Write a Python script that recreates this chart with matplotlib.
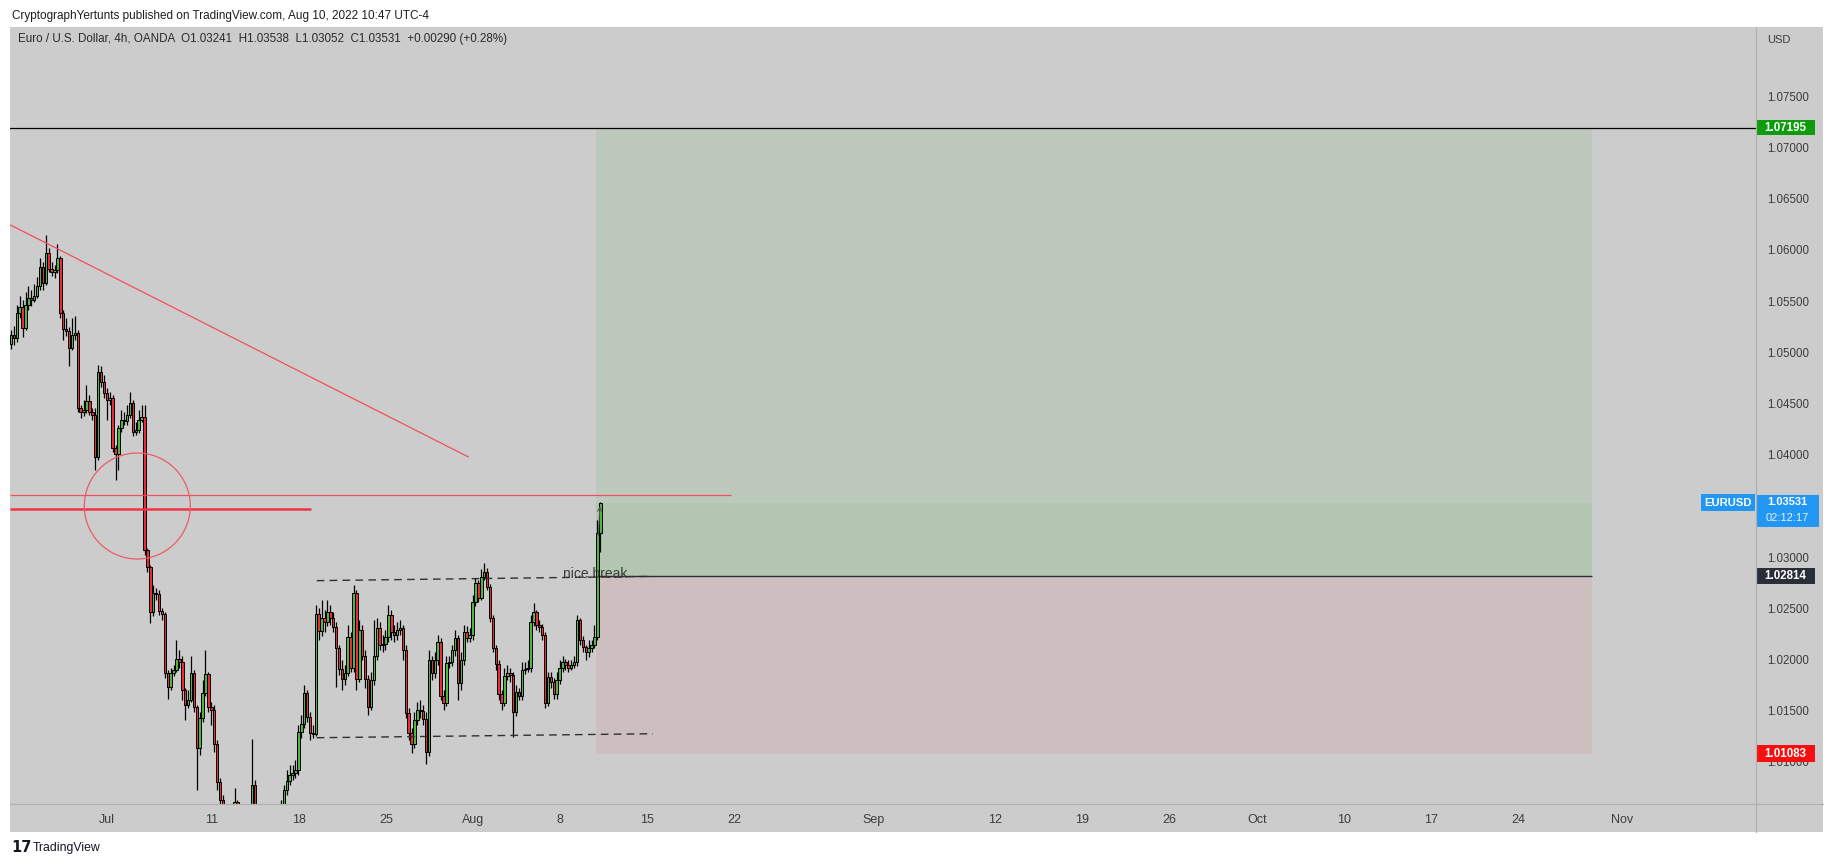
import numpy as np
import matplotlib
matplotlib.use("Agg")
import matplotlib.pyplot as plt
from matplotlib.patches import Rectangle, Ellipse
from matplotlib.transforms import blended_transform_factory, IdentityTransform

# ---------------- data (EURUSD 4h, OANDA) ----------------
first_open = 1.0508
closes = [
    1.0517, 1.0514, 1.0538, 1.0544, 1.0524, 1.0546, 1.0553, 1.0551, 1.0555, 1.0565,
    1.0583, 1.0568, 1.0597, 1.0581, 1.0579, 1.0580, 1.0592, 1.0538, 1.0523, 1.0521,
    1.0504, 1.0517, 1.0519, 1.0446, 1.0442, 1.0444, 1.0453, 1.0442, 1.0439, 1.0398,
    1.0481, 1.0471, 1.0460, 1.0454, 1.0455, 1.0407, 1.0401, 1.0426, 1.0434, 1.0433,
    1.0439, 1.0451, 1.0422, 1.0424, 1.0434, 1.0437, 1.0307, 1.0290, 1.0246, 1.0265,
    1.0264, 1.0247, 1.0245, 1.0187, 1.0173, 1.0187, 1.0190, 1.0201, 1.0198, 1.0170,
    1.0156, 1.0161, 1.0187, 1.0154, 1.0114, 1.0143, 1.0167, 1.0186, 1.0154, 1.0151,
    1.0118, 1.0080, 1.0063, 1.0048, 1.0034, 1.0014, 1.0044, 1.0061, 1.0034, 1.0004,
    0.9985, 0.9965, 0.9994, 1.0078, 1.0034, 1.0014, 0.9994, 1.0004, 0.9985, 0.9994,
    1.0014, 1.0024, 1.0044, 1.0058, 1.0073, 1.0081, 1.0087, 1.0089, 1.0092, 1.0129,
    1.0137, 1.0167, 1.0144, 1.0128, 1.0127, 1.0245, 1.0228, 1.0241, 1.0237, 1.0246,
    1.0241, 1.0232, 1.0211, 1.0191, 1.0181, 1.0187, 1.0222, 1.0192, 1.0265, 1.0181,
    1.0229, 1.0204, 1.0181, 1.0154, 1.0180, 1.0204, 1.0231, 1.0214, 1.0215, 1.0222,
    1.0244, 1.0227, 1.0224, 1.0229, 1.0231, 1.0209, 1.0148, 1.0128, 1.0118, 1.0141,
    1.0151, 1.0150, 1.0142, 1.0110, 1.0200, 1.0187, 1.0200, 1.0217, 1.0164, 1.0158,
    1.0197, 1.0198, 1.0209, 1.0221, 1.0177, 1.0200, 1.0227, 1.0221, 1.0224, 1.0256,
    1.0275, 1.0260, 1.0281, 1.0286, 1.0271, 1.0241, 1.0211, 1.0196, 1.0166, 1.0158,
    1.0184, 1.0187, 1.0185, 1.0149, 1.0168, 1.0164, 1.0190, 1.0191, 1.0192, 1.0237,
    1.0246, 1.0234, 1.0232, 1.0224, 1.0158, 1.0183, 1.0178, 1.0166, 1.0180, 1.0192,
    1.0198, 1.0195, 1.0192, 1.0195, 1.0198, 1.0239, 1.0219, 1.0212, 1.0207, 1.0211,
    1.0214, 1.0222, 1.03241, 1.03531]
highs = [
    1.0522, 1.0526, 1.0546, 1.0555, 1.0551, 1.0559, 1.0565, 1.0561, 1.0567, 1.0574,
    1.0592, 1.0588, 1.0615, 1.0602, 1.0588, 1.0585, 1.0606, 1.0594, 1.0541, 1.0534,
    1.0525, 1.0534, 1.0536, 1.0522, 1.0449, 1.0454, 1.0468, 1.0458, 1.0446, 1.0446,
    1.0488, 1.0487, 1.0478, 1.0465, 1.0461, 1.0458, 1.0410, 1.0429, 1.0444, 1.0442,
    1.0449, 1.0461, 1.0454, 1.0432, 1.0444, 1.0449, 1.0449, 1.0309, 1.0292, 1.0273,
    1.0270, 1.0268, 1.0250, 1.0246, 1.0190, 1.0192, 1.0195, 1.0219, 1.0209, 1.0204,
    1.0172, 1.0170, 1.0204, 1.0190, 1.0156, 1.0149, 1.0180, 1.0209, 1.0188, 1.0159,
    1.0156, 1.0121, 1.0084, 1.0068, 1.0053, 1.0039, 1.0058, 1.0075, 1.0063, 1.0039,
    1.0009, 0.9990, 1.0004, 1.0122, 1.0082, 1.0039, 1.0019, 1.0014, 1.0009, 1.0004,
    1.0019, 1.0034, 1.0048, 1.0063, 1.0078, 1.0092, 1.0097, 1.0097, 1.0102, 1.0136,
    1.0146, 1.0175, 1.0170, 1.0149, 1.0136, 1.0253, 1.0250, 1.0258, 1.0248, 1.0258,
    1.0253, 1.0246, 1.0237, 1.0214, 1.0200, 1.0195, 1.0234, 1.0227, 1.0273, 1.0268,
    1.0239, 1.0234, 1.0209, 1.0185, 1.0188, 1.0239, 1.0241, 1.0237, 1.0224, 1.0229,
    1.0253, 1.0248, 1.0234, 1.0237, 1.0239, 1.0234, 1.0214, 1.0153, 1.0133, 1.0149,
    1.0159, 1.0161, 1.0156, 1.0149, 1.0209, 1.0204, 1.0207, 1.0224, 1.0221, 1.0170,
    1.0204, 1.0204, 1.0214, 1.0229, 1.0224, 1.0207, 1.0234, 1.0233, 1.0231, 1.0263,
    1.0280, 1.0278, 1.0288, 1.0294, 1.0289, 1.0274, 1.0244, 1.0214, 1.0200, 1.0170,
    1.0192, 1.0195, 1.0192, 1.0188, 1.0175, 1.0172, 1.0198, 1.0198, 1.0200, 1.0244,
    1.0255, 1.0248, 1.0239, 1.0235, 1.0227, 1.0188, 1.0188, 1.0182, 1.0188, 1.0200,
    1.0204, 1.0201, 1.0200, 1.0200, 1.0204, 1.0244, 1.0241, 1.0223, 1.0214, 1.0219,
    1.0219, 1.0234, 1.0336, 1.03538]
lows = [
    1.0503, 1.0507, 1.0510, 1.0534, 1.0515, 1.0522, 1.0541, 1.0545, 1.0549, 1.0553,
    1.0561, 1.0561, 1.0566, 1.0579, 1.0575, 1.0573, 1.0578, 1.0534, 1.0512, 1.0516,
    1.0487, 1.0502, 1.0512, 1.0442, 1.0436, 1.0438, 1.0441, 1.0439, 1.0434, 1.0385,
    1.0395, 1.0466, 1.0455, 1.0434, 1.0449, 1.0403, 1.0375, 1.0385, 1.0422, 1.0429,
    1.0429, 1.0436, 1.0418, 1.0419, 1.0421, 1.0432, 1.0302, 1.0286, 1.0236, 1.0243,
    1.0258, 1.0244, 1.0239, 1.0182, 1.0162, 1.0170, 1.0184, 1.0188, 1.0192, 1.0161,
    1.0141, 1.0153, 1.0159, 1.0149, 1.0073, 1.0107, 1.0139, 1.0164, 1.0149, 1.0136,
    1.0110, 1.0073, 1.0058, 1.0034, 1.0024, 1.0004, 1.0009, 1.0039, 1.0024, 0.9994,
    0.9975, 0.9955, 0.9960, 0.9990, 1.0024, 1.0004, 0.9985, 0.9990, 0.9975, 0.9980,
    0.9990, 1.0009, 1.0019, 1.0039, 1.0055, 1.0068, 1.0078, 1.0082, 1.0084, 1.0087,
    1.0123, 1.0133, 1.0139, 1.0121, 1.0123, 1.0125, 1.0219, 1.0223, 1.0227, 1.0233,
    1.0234, 1.0227, 1.0173, 1.0185, 1.0170, 1.0175, 1.0184, 1.0188, 1.0188, 1.0170,
    1.0178, 1.0200, 1.0172, 1.0146, 1.0151, 1.0175, 1.0200, 1.0209, 1.0207, 1.0209,
    1.0217, 1.0219, 1.0217, 1.0219, 1.0224, 1.0200, 1.0143, 1.0121, 1.0109, 1.0114,
    1.0136, 1.0143, 1.0136, 1.0098, 1.0106, 1.0180, 1.0182, 1.0195, 1.0161, 1.0151,
    1.0155, 1.0192, 1.0194, 1.0204, 1.0161, 1.0170, 1.0195, 1.0217, 1.0217, 1.0219,
    1.0252, 1.0256, 1.0258, 1.0278, 1.0268, 1.0237, 1.0207, 1.0190, 1.0161, 1.0151,
    1.0155, 1.0180, 1.0178, 1.0124, 1.0145, 1.0161, 1.0161, 1.0186, 1.0188, 1.0188,
    1.0233, 1.0229, 1.0227, 1.0219, 1.0153, 1.0155, 1.0172, 1.0162, 1.0162, 1.0176,
    1.0188, 1.0190, 1.0188, 1.0190, 1.0192, 1.0194, 1.0214, 1.0207, 1.0200, 1.0203,
    1.0207, 1.0211, 1.0219, 1.03052]

tick_dates = ['2022-07-01', '2022-07-11', '2022-07-18', '2022-07-25', '2022-08-01',
              '2022-08-08', '2022-08-15', '2022-08-22', '2022-09-01', '2022-09-12',
              '2022-09-19', '2022-09-26', '2022-10-03', '2022-10-10', '2022-10-17',
              '2022-10-24', '2022-11-01']
tick_labels = ['Jul', '11', '18', '25', 'Aug', '8', '15', '22', 'Sep', '12',
               '19', '26', 'Oct', '10', '17', '24', 'Nov']
# 1.035 is hidden behind the live-price label, as on the reference
price_ticks = [1.010, 1.015, 1.020, 1.025, 1.030, 1.040, 1.045,
               1.050, 1.055, 1.060, 1.065, 1.070, 1.075]

# long position tool levels
target_price = 1.07195
entry_price = 1.02814
stop_price = 1.01083
last_price = 1.03531

# drawings (price levels)
res_thin = 1.03603
res_thick = 1.03468
trend_p0, trend_p1 = 1.06244, 1.03981
box_top = (1.02771, 1.02813)
box_bot = (1.01237, 1.01276)

# ---------------- layout ----------------
W, H, DPI = 1834, 867, 100
BG = '#cccccc'
GREEN, RED = '#4cb83c', '#ee2a35'
FONT = ['Liberation Sans', 'DejaVu Sans']
NARROW = ['Liberation Sans Narrow', 'Liberation Sans', 'DejaVu Sans']
plt.rcParams['font.family'] = FONT

fig = plt.figure(figsize=(W / DPI, H / DPI), dpi=DPI, facecolor='white')


def fig_rect(x0, y0, x1, y1, **kw):
    fig.add_artist(Rectangle((x0 / W, 1 - y1 / H), (x1 - x0) / W, (y1 - y0) / H,
                             transform=fig.transFigure, **kw))


def fig_line(xs, ys, **kw):
    fig.add_artist(plt.Line2D([x / W for x in xs], [1 - y / H for y in ys],
                              transform=fig.transFigure, **kw))


fig_rect(10, 27, 1823, 832, facecolor=BG, edgecolor='none', zorder=-5)

AX_L, AX_R, AX_T, AX_B = 10, 1756, 27, 804
ax = fig.add_axes([AX_L / W, 1 - AX_B / H, (AX_R - AX_L) / W, (AX_B - AX_T) / H])
ax.set_facecolor(BG)
for s in ax.spines.values():
    s.set_visible(False)

BAR_PX = 17.417 / 6.0        # pixels per 4h bar
X0_PX = 11.0                 # pixel position of first bar
PPU = 10240.0                # pixels per price unit
Y0_PX, Y0_P = 762.0, 1.010
xmin = (AX_L - X0_PX) / BAR_PX
xmax = (AX_R - X0_PX) / BAR_PX
ymax = Y0_P + (Y0_PX - AX_T) / PPU
ymin = Y0_P + (Y0_PX - AX_B) / PPU
ax.set_xlim(xmin, xmax)
ax.set_ylim(ymin, ymax)


def bar_of_px(px):
    return (px - X0_PX) / BAR_PX


# ---------------- position tool ----------------
pos_x0, pos_x1 = bar_of_px(596), bar_of_px(1592)
ax.add_patch(Rectangle((pos_x0, entry_price), pos_x1 - pos_x0, target_price - entry_price,
                       facecolor='#bec9be', edgecolor='none', zorder=1))
ax.add_patch(Rectangle((pos_x0, entry_price), pos_x1 - pos_x0, last_price - entry_price,
                       facecolor='#b3c6b2', edgecolor='none', zorder=1.1))
ax.add_patch(Rectangle((pos_x0, stop_price), pos_x1 - pos_x0, entry_price - stop_price,
                       facecolor='#cdbfbf', edgecolor='none', zorder=1))
ax.hlines(entry_price, pos_x0, pos_x1, color='#2a2e39', lw=1.0, zorder=2)
ax.axhline(target_price, color='black', lw=0.9, zorder=2)

# ---------------- candles ----------------
c = np.array(closes)
o = np.array([first_open] + closes[:-1])
h = np.maximum(np.array(highs), np.maximum(o, c))
l = np.minimum(np.array(lows), np.minimum(o, c))
x = np.arange(len(c))
up = c >= o
ax.vlines(x, l, h, color='black', lw=0.9, zorder=3)
body_lo = np.minimum(o, c)
body_h = np.maximum(np.abs(c - o), 0.00008)
ax.bar(x, body_h, bottom=body_lo, width=0.86,
       color=np.where(up, GREEN, RED), edgecolor='black', linewidth=0.72, zorder=4)

# ---------------- drawings ----------------
RL = '#f0505e'
ax.plot([bar_of_px(10.5), bar_of_px(468)], [trend_p0, trend_p1], color=RL, lw=0.9, zorder=5)
ax.hlines(res_thin, xmin, bar_of_px(731), color=RL, lw=0.9, zorder=5)
ax.hlines(res_thick, xmin, bar_of_px(311), color='#ee3545', lw=1.8, zorder=5)
ax.add_patch(Ellipse((bar_of_px(137.3), 1.0350), 106 / BAR_PX, 106 / PPU,
                     facecolor='none', edgecolor='#ee5a68', lw=0.9, zorder=5))
ax.plot([bar_of_px(316.7), bar_of_px(653)], list(box_top), color='#303030', lw=1.0,
        dashes=(5.5, 3.8), zorder=5)
ax.plot([bar_of_px(316.7), bar_of_px(653)], list(box_bot), color='#303030', lw=1.0,
        dashes=(5.5, 3.8), zorder=5)
ax.text(bar_of_px(563), 1.02797, 'nice break', fontsize=10, color='#3a3a3a',
        va='baseline', ha='left', zorder=6)
ax.annotate('', xy=(len(c) - 1 - 0.1, 1.03525), xytext=(len(c) - 1.7, 1.0318),
            arrowprops=dict(arrowstyle='->', color='#555555', lw=0.8, mutation_scale=7),
            zorder=6)

# ---------------- axes ticks ----------------
jul1_bar = bar_of_px(107.2)
tick_pos = [jul1_bar + 6 * np.busday_count('2022-07-01', d) for d in tick_dates]
ax.set_xticks(tick_pos)
ax.set_xticklabels(tick_labels, family=NARROW)
ax.tick_params(axis='x', length=0, pad=7, labelsize=9.0, labelcolor='#3c3c3c')
ax.yaxis.tick_right()
ax.set_yticks(price_ticks)
ax.set_yticklabels([f'{v:.5f}' for v in price_ticks])
ax.tick_params(axis='y', length=0, pad=7.8, labelsize=8.3, labelcolor='#3c3c3c')

# separators
fig_line([AX_R, AX_R], [AX_T, 832], color='#b0b0b0', lw=0.9, zorder=10)
fig_line([AX_L, 1823], [AX_B, AX_B], color='#b0b0b0', lw=0.9, zorder=10)

# ---------------- price-axis labels ----------------
T = blended_transform_factory(IdentityTransform(), ax.transData)


def px_to_du(px):
    return px / PPU


def price_box(price, text, fc, x0, x1, up_px=7.5, dn_px=7.5, tc='white', weight='bold'):
    ax.add_patch(Rectangle((x0, price - px_to_du(dn_px)), x1 - x0, px_to_du(up_px + dn_px),
                           transform=T, facecolor=fc, edgecolor='none', clip_on=False, zorder=8))
    ax.text((x0 + x1) / 2, price, text, transform=T, ha='center', va='center',
            fontsize=8.3, color=tc, fontweight=weight, clip_on=False, zorder=9)


price_box(target_price, f'{target_price:.5f}', '#0c9c0c', AX_R, 1815)
price_box(entry_price, f'{entry_price:.5f}', '#2a2e39', AX_R, 1815, up_px=8.2, dn_px=8.2)
price_box(stop_price, f'{stop_price:.5f}', '#f50f0f', AX_R, 1815, up_px=8.5, dn_px=8.5)
# current price label (two lines)
ax.add_patch(Rectangle((AX_R, last_price - px_to_du(24.5)), 1819 - AX_R, px_to_du(32),
                       transform=T, facecolor='#2196f3', edgecolor='none', clip_on=False, zorder=8))
ax.text((AX_R + 1819) / 2, last_price + px_to_du(0.5), f'{last_price:.5f}', transform=T,
        ha='center', va='center', fontsize=8.0, color='white', fontweight='bold',
        clip_on=False, zorder=9)
ax.text((AX_R + 1819) / 2, last_price - px_to_du(15.5), '02:12:17', transform=T,
        ha='center', va='center', fontsize=8.0, color='#e8f3fe', clip_on=False, zorder=9)
ax.add_patch(Rectangle((1701, last_price - px_to_du(8.5)), AX_R - 1 - 1701, px_to_du(17),
                       transform=T, facecolor='#2196f3', edgecolor='none', clip_on=False, zorder=8))
ax.text((1701 + AX_R - 1) / 2, last_price, 'EURUSD', transform=T, ha='center', va='center',
        fontsize=8.1, color='white', fontweight='bold', clip_on=False, zorder=9)

# ---------------- header / footer texts ----------------
fig.text(11.5 / W, 1 - 16 / H,
         'CryptographYertunts published on TradingView.com, Aug 10, 2022 10:47 UTC-4',
         fontsize=8.5, color='#1e1e1e', va='center', ha='left')
fig.text(18 / W, 1 - 39 / H,
         'Euro / U.S. Dollar, 4h, OANDA  O1.03241  H1.03538  L1.03052  C1.03531  +0.00290 (+0.28%)',
         fontsize=8.35, color='#2a2a2a', va='center', ha='left')
fig.text(1767 / W, 1 - 40 / H, 'USD', fontsize=8.0, color='#3c3c3c', va='center', ha='left')
fig.text(11 / W, 1 - 848 / H, '17', fontsize=10.5, fontweight='heavy', color='#131722',
         va='center', ha='left', family=['DejaVu Sans'])
fig.text(33 / W, 1 - 848 / H, 'TradingView', fontsize=8.8, color='#131722',
         va='center', ha='left', family=NARROW)

fig.savefig('out.png', dpi=DPI, facecolor='white')
